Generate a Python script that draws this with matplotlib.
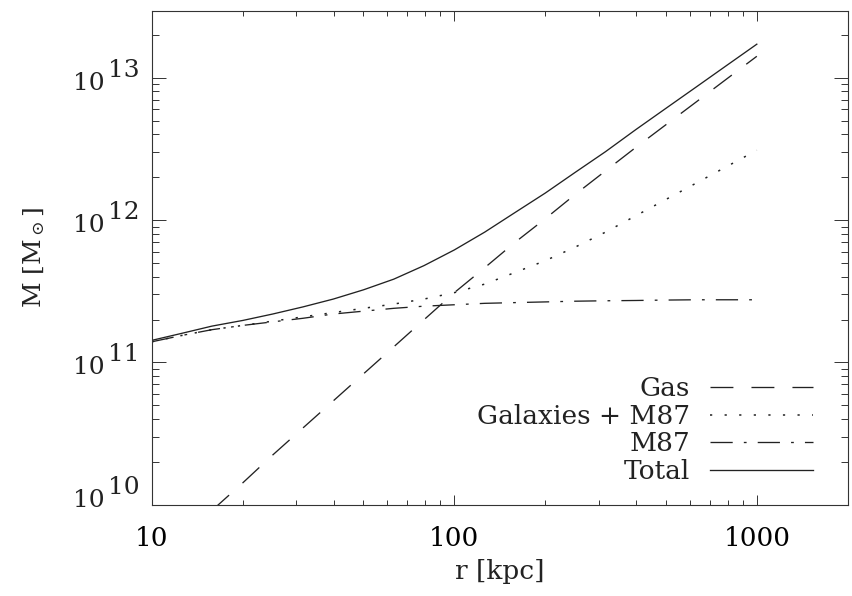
import matplotlib
matplotlib.use("Agg")
import matplotlib.pyplot as plt
import numpy as np

plt.rcParams["font.family"] = ["DejaVu Serif", "DejaVu Sans"]
plt.rcParams["mathtext.fontset"] = "dejavuserif"
plt.rcParams["lines.scale_dashes"] = False

# radius in kpc, masses as log10(M / Msun)
r_kpc = [10.0, 12.6, 15.8, 20.0, 25.1, 31.6, 39.8, 50.1, 63.1, 79.4, 100.0,
         126, 158, 200, 251, 316, 398, 501, 631, 794, 1000]
log_gas = [9.57, 9.765, 9.96, 10.155, 10.35, 10.54, 10.73, 10.92, 11.11, 11.30, 11.49,
           11.665, 11.84, 12.01, 12.18, 12.345, 12.51, 12.67, 12.83, 12.99, 13.15]
log_galaxies = [11.145, 11.19, 11.23, 11.26, 11.29, 11.32, 11.35, 11.38, 11.41, 11.445, 11.49,
                11.55, 11.63, 11.715, 11.81, 11.915, 12.03, 12.145, 12.26, 12.375, 12.49]
log_m87 = [11.145, 11.19, 11.23, 11.26, 11.285, 11.31, 11.34, 11.36, 11.38, 11.395, 11.405,
           11.415, 11.42, 11.425, 11.43, 11.433, 11.435, 11.438, 11.44, 11.44, 11.44]
log_total = [11.155, 11.205, 11.255, 11.295, 11.34, 11.39, 11.445, 11.51, 11.585, 11.68, 11.79,
             11.915, 12.05, 12.19, 12.335, 12.48, 12.635, 12.785, 12.935, 13.085, 13.235]

labels = ["Gas", "Galaxies + M87", "M87", "Total"]
y_decades = [10, 11, 12, 13]

col = "#222222"
fig = plt.figure(figsize=(8.53, 5.96), dpi=100)
ax = fig.add_axes([0.178, 0.153, 0.816, 0.829])

r = np.array(r_kpc)
ax.plot(r, 10 ** np.array(log_gas), color=col, lw=0.95, dashes=(16.5, 13), label=labels[0])
ax.plot(r, 10 ** np.array(log_galaxies), color=col, lw=1.1, dashes=(1.6, 8.9), label=labels[1])
ax.plot(r, 10 ** np.array(log_m87), color=col, lw=0.95, dashes=(16, 8, 2, 8), label=labels[2])
ax.plot(r, 10 ** np.array(log_total), color=col, lw=0.95, label=labels[3])

ax.set_xscale("log")
ax.set_yscale("log")
ax.set_xlim(10, 2000)
ax.set_ylim(1e10, 10 ** 13.47)

for s in ax.spines.values():
    s.set_linewidth(0.8)
    s.set_color("#333333")

ax.tick_params(axis="both", which="both", direction="in", top=True, right=True,
               color="#333333", width=0.7)
ax.tick_params(axis="x", which="major", length=7.2, pad=15, labelsize=19)
ax.tick_params(axis="x", which="minor", length=3.6)
ax.tick_params(axis="y", which="major", length=10, labelleft=False)
ax.tick_params(axis="y", which="minor", length=5)
ax.set_xticks([10, 100, 1000])
ax.set_xticklabels(["10", "100", "1000"])
ax.set_yticks([10.0 ** d for d in y_decades])

# y labels drawn as 10 with a full size exponent
tr = ax.get_yaxis_transform()
for d in y_decades:
    lift = 7 if d == y_decades[0] else 0
    ax.annotate("10", xy=(0, 10.0 ** d), xycoords=tr, xytext=(-57, -8.6 + lift),
                textcoords="offset points", ha="left", va="baseline", fontsize=18,
                color="#222222", annotation_clip=False)
    ax.annotate(str(d), xy=(0, 10.0 ** d), xycoords=tr, xytext=(-31.7, 0.7 + lift),
                textcoords="offset points", ha="left", va="baseline", fontsize=18,
                color="#222222", annotation_clip=False)

ax.set_xlabel("r [kpc]", fontsize=19, color="#222222")
ax.xaxis.set_label_coords(0.5, -0.11)
ax.set_ylabel(r"M [M$_\odot$]", fontsize=18, color="#222222")
ax.yaxis.set_label_coords(-0.15, 0.5)

ax.legend(loc="lower right", bbox_to_anchor=(0.95, 0.042), frameon=False,
          markerfirst=False, handlelength=3.9, handletextpad=0.76,
          labelspacing=0.1, borderpad=0, borderaxespad=0, fontsize=19,
          labelcolor="#222222")

fig.savefig("out.png", dpi=100)
